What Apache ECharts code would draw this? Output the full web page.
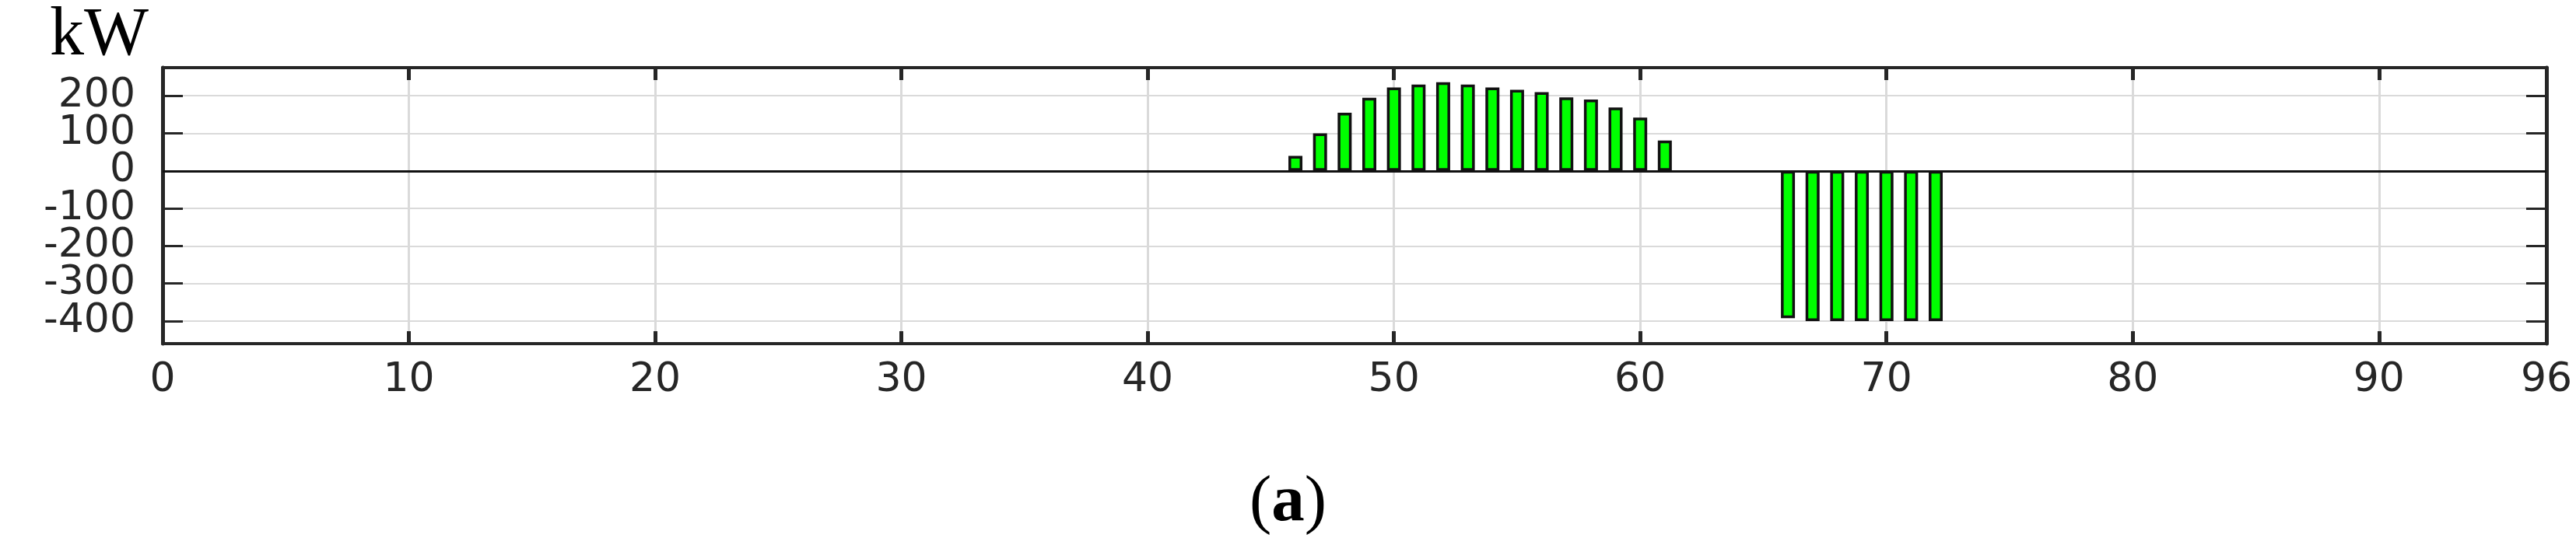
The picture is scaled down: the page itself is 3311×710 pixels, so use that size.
<!DOCTYPE html>
<html>
<head>
<meta charset="utf-8">
<script src="https://cdn.jsdelivr.net/npm/echarts@6/dist/echarts.min.js"></script>
<style>
html,body{margin:0;padding:0;background:#fff;}
#chart{width:3311px;height:710px;}
</style>
</head>
<body>
<div id="chart"></div>
<script>
// time step (15-min intervals) and power (kW)
const steps = [46,47,48,49,50,51,52,53,54,55,56,57,58,59,60,61,66,67,68,69,70,71,72];
const power = [40,100,155,195,222,230,236,230,222,216,210,196,190,169,142,81,-392,-400,-400,-400,-400,-400,-400];
const xTicks = [0,10,20,30,40,50,60,70,80,90,96];
const yTicks = [200,100,0,-100,-200,-300,-400];
const unitLabel = 'kW';
const panelLabel = 'a';

const AX = '#262626';
const GRID = '#dadada';
const labelFont = 'DejaVu Sans';

const chart = echarts.init(document.getElementById('chart'), null, {renderer: 'canvas'});

const xMin = 0, xMax = 96.8;
const yMin = -460, yMax = 275;

const xLabel = v => {
  if (v > 95) return String(xTicks[xTicks.length - 1]);
  return xTicks.indexOf(v) >= 0 ? String(v) : '';
};
const yLabel = v => (yTicks.indexOf(v) >= 0 ? String(v) : '');

chart.setOption({
  animation: false,
  backgroundColor: '#ffffff',
  title: [
    {
      text: unitLabel,
      left: 64,
      top: 3,
      padding: 0,
      textStyle: {fontFamily: 'Liberation Serif', fontSize: 88, fontWeight: 'normal', color: '#000'}
    },
    {
      text: '{n|(}{b|' + panelLabel + '}{n|)}',
      left: 'center',
      top: 605,
      padding: 0,
      textStyle: {
        rich: {
          n: {fontFamily: 'Liberation Serif', fontSize: 85, fontWeight: 'normal', color: '#000'},
          b: {fontFamily: 'Liberation Serif', fontSize: 85, fontWeight: 'bold', color: '#000'}
        }
      }
    }
  ],
  grid: {left: 209, right: 38, top: 87, bottom: 268, containLabel: false},
  xAxis: [
    {
      type: 'value', position: 'bottom', min: xMin, max: xMax, interval: 10,
      axisLine: {show: true, onZero: false, lineStyle: {color: AX, width: 4}},
      axisTick: {show: true, inside: true, length: 16, lineStyle: {color: AX, width: 5}},
      axisLabel: {show: true, margin: 21, formatter: xLabel, fontFamily: labelFont, fontSize: 52, color: AX},
      splitLine: {show: true, lineStyle: {color: GRID, width: 3}}
    },
    {
      type: 'value', position: 'top', min: xMin, max: xMax, interval: 10,
      axisLine: {show: true, onZero: false, lineStyle: {color: AX, width: 4}},
      axisTick: {show: true, inside: true, length: 16, lineStyle: {color: AX, width: 5}},
      axisLabel: {show: false},
      splitLine: {show: false}
    }
  ],
  yAxis: [
    {
      type: 'value', position: 'left', min: yMin, max: yMax, splitNumber: 7,
      axisLine: {show: true, onZero: false, lineStyle: {color: AX, width: 5}},
      axisTick: {show: true, inside: true, length: 26, lineStyle: {color: AX, width: 3}},
      axisLabel: {show: true, margin: 35, formatter: yLabel, fontFamily: labelFont, fontSize: 52, color: AX},
      splitLine: {show: true, lineStyle: {color: GRID, width: 2}}
    },
    {
      type: 'value', position: 'right', min: yMin, max: yMax, splitNumber: 7,
      axisLine: {show: true, onZero: false, lineStyle: {color: AX, width: 5}},
      axisTick: {show: true, inside: true, length: 26, lineStyle: {color: AX, width: 3}},
      axisLabel: {show: false},
      splitLine: {show: false}
    }
  ],
  series: [
    {
      type: 'bar',
      xAxisIndex: 0,
      yAxisIndex: 0,
      barWidth: 18,
      data: steps.map((s, i) => [s, power[i]]),
      itemStyle: {color: '#00ff00', borderColor: '#111111', borderWidth: 3.5},
      markLine: {
        silent: true,
        symbol: ['none', 'none'],
        label: {show: false},
        lineStyle: {color: '#111111', width: 3, type: 'solid'},
        data: [{yAxis: 0}]
      },
      z: 3
    }
  ]
});
</script>
</body>
</html>
